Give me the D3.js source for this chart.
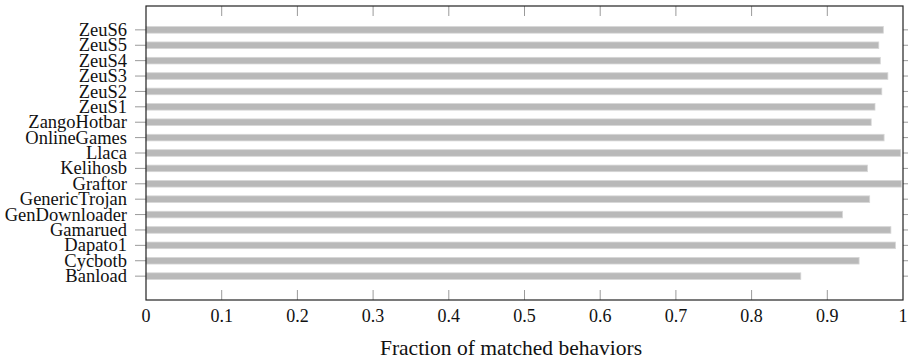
<!DOCTYPE html>
<html>
<head>
<meta charset="utf-8">
<script src="https://cdn.jsdelivr.net/npm/d3@7"></script>
<style>
  html, body { margin: 0; padding: 0; background: #fff; }
  svg { display: block; font-family: "Liberation Serif", "DejaVu Serif", serif; }
</style>
</head>
<body>
<svg id="chart" width="908" height="361"></svg>
<script>
// bottom to top, as in the figure
const families = ['Banload', 'Cycbotb', 'Dapato1', 'Gamarued', 'GenDownloader', 'GenericTrojan',
  'Graftor', 'Kelihosb', 'Llaca', 'OnlineGames', 'ZangoHotbar', 'ZeuS1', 'ZeuS2', 'ZeuS3',
  'ZeuS4', 'ZeuS5', 'ZeuS6'];
const matched = [0.865, 0.942, 0.990, 0.984, 0.920, 0.956, 0.998, 0.953, 0.997, 0.975,
  0.958, 0.963, 0.972, 0.980, 0.970, 0.968, 0.974];
const xTicks = [0, 0.1, 0.2, 0.3, 0.4, 0.5, 0.6, 0.7, 0.8, 0.9, 1];
const xTitle = 'Fraction of matched behaviors';

const plotLeft = 146, plotRight = 903, plotTop = 6, plotBottom = 300;
const pad = 1.55;

const svg = d3.select('#chart');

const x = d3.scaleLinear().domain([0, 1]).range([plotLeft, plotRight]);
const y = d3.scaleLinear().domain([-pad, families.length - 1 + pad]).range([plotBottom, plotTop]);

const barH = 6.6;

// bars
svg.append('g')
  .selectAll('rect')
  .data(families)
  .join('rect')
  .attr('x', x(0))
  .attr('y', (d, i) => y(i) - barH / 2)
  .attr('width', (d, i) => x(matched[i]) - x(0))
  .attr('height', barH)
  .style('fill', '#b9b9b9')
  .style('stroke', '#d6d6d6')
  .style('stroke-width', 0.8);

// x ticks, inward on bottom and top
const tickG = svg.append('g').style('stroke', '#9a9a9a').style('stroke-width', 1);
xTicks.slice(1, -1).forEach(t => {
  tickG.append('line')
    .attr('x1', x(t)).attr('x2', x(t))
    .attr('y1', plotBottom).attr('y2', plotBottom - 10);
  tickG.append('line')
    .attr('x1', x(t)).attr('x2', x(t))
    .attr('y1', plotTop).attr('y2', plotTop + 10);
});

// y ticks, outward on both sides
families.forEach((f, i) => {
  tickG.append('line')
    .attr('x1', plotLeft - 11).attr('x2', plotLeft)
    .attr('y1', y(i)).attr('y2', y(i));
  tickG.append('line')
    .attr('x1', plotRight).attr('x2', plotRight + 6)
    .attr('y1', y(i)).attr('y2', y(i));
});

// frame
svg.append('rect')
  .attr('x', plotLeft).attr('y', plotTop)
  .attr('width', plotRight - plotLeft).attr('height', plotBottom - plotTop)
  .style('fill', 'none')
  .style('stroke', '#222')
  .style('stroke-width', 1.2);

// x tick labels
svg.append('g')
  .selectAll('text')
  .data(xTicks)
  .join('text')
  .attr('x', d => x(d))
  .attr('y', 322)
  .attr('text-anchor', 'middle')
  .style('font-size', '18px')
  .style('fill', '#111')
  .text(d => d3.format('~g')(d));

// category labels (tight like the original, they nearly touch)
svg.append('g')
  .selectAll('text')
  .data(families)
  .join('text')
  .attr('x', 127)
  .attr('y', (d, i) => y(i))
  .attr('dy', '0.33em')
  .attr('text-anchor', 'end')
  .style('font-size', '18.5px')
  .style('fill', '#111')
  .text(d => d);

// x title
svg.append('text')
  .attr('x', 511)
  .attr('y', 355)
  .attr('text-anchor', 'middle')
  .style('font-size', '21.5px')
  .style('fill', '#111')
  .text(xTitle);
</script>
</body>
</html>
